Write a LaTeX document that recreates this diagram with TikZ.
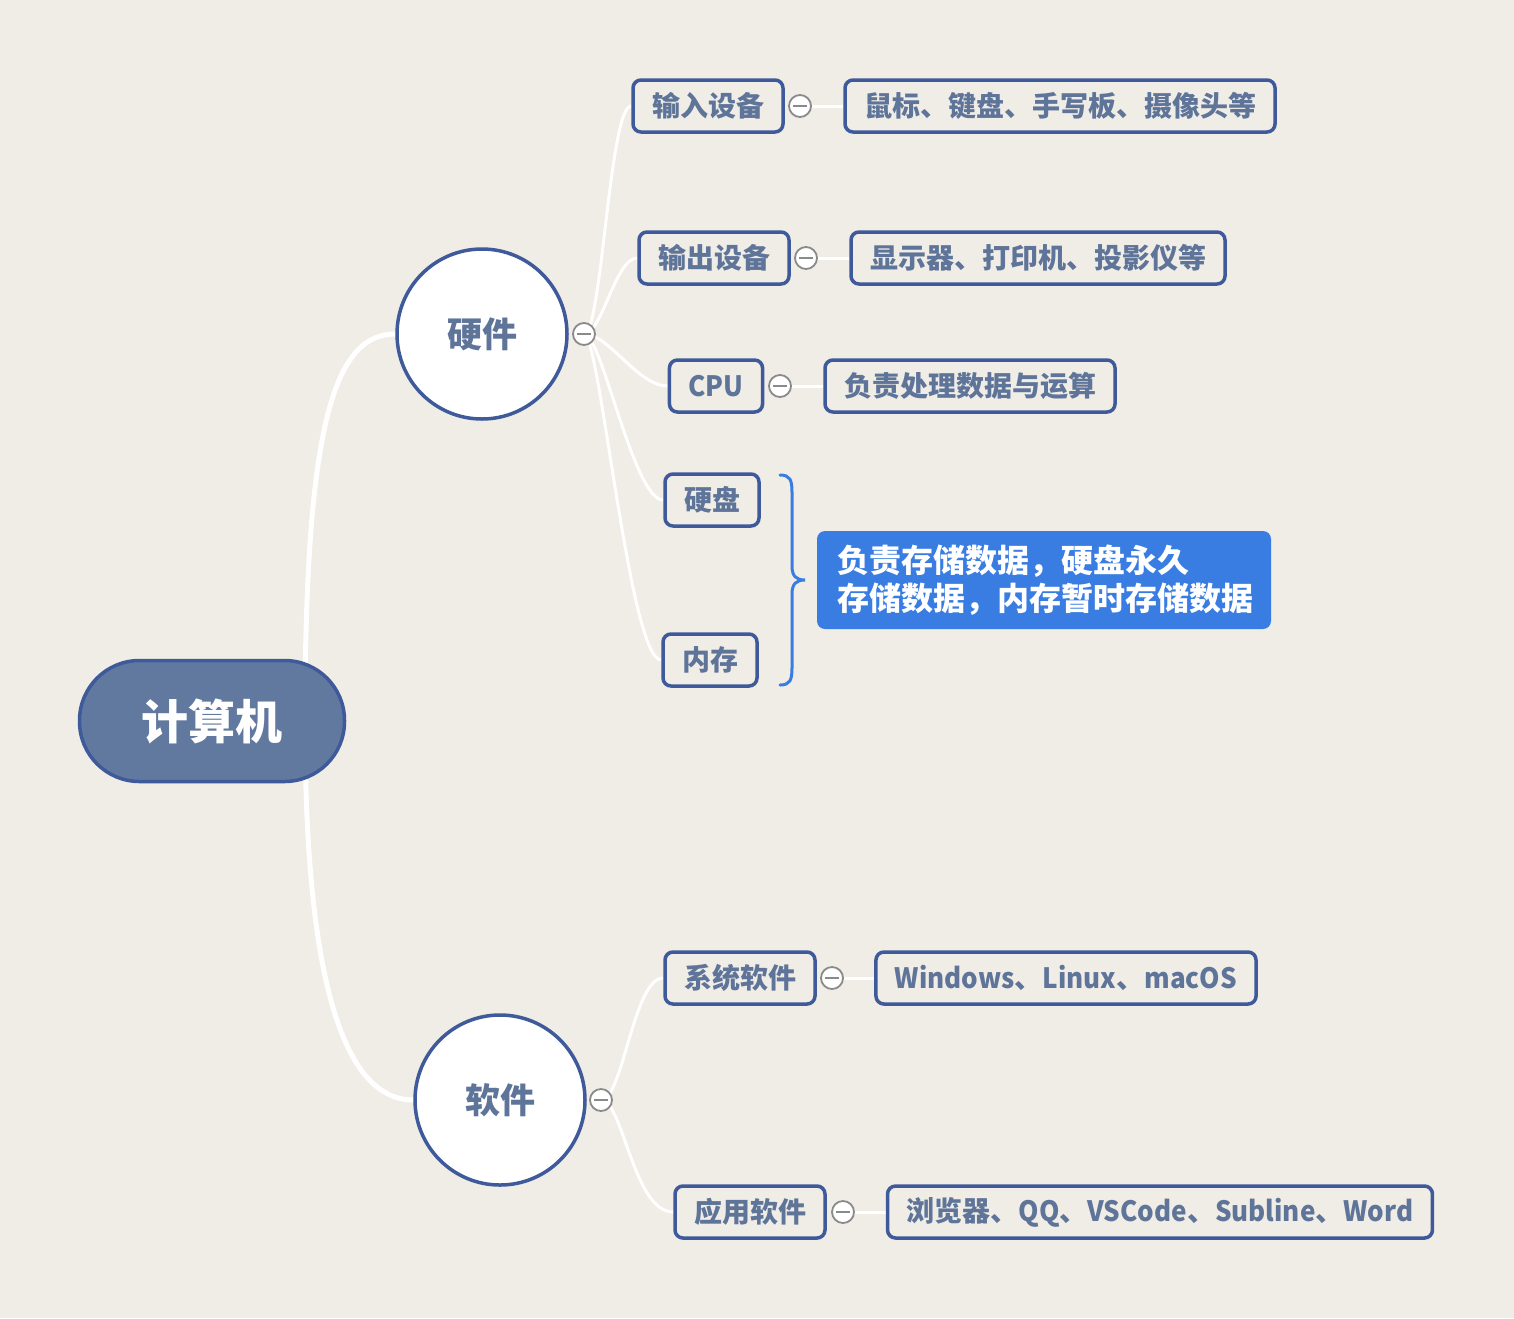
\documentclass[tikz,border=0pt]{standalone}
\usepackage{fontspec}
\setmainfont{Noto Sans CJK SC}
\usetikzlibrary{calc}
\definecolor{bgc}{HTML}{F0ECE6}
\definecolor{bordc}{HTML}{3F5A9A}
\definecolor{txtc}{HTML}{5E7499}
\definecolor{rootc}{HTML}{61799F}
\definecolor{notec}{HTML}{3A7DE2}
\definecolor{iconc}{HTML}{8A8A8A}
\newcommand{\latn}[1]{\scalebox{0.93}[1]{#1}}
\pgfdeclarelayer{back}
\pgfdeclarelayer{lines}
\pgfsetlayers{back,lines,main}
\tikzset{
  rootnode/.style={draw=bordc, line width=3.5pt, fill=rootc, rounded corners=60pt,
    minimum width=265pt, minimum height=121pt, text=white,
    font=\bfseries\fontsize{47}{50}\selectfont},
  topic/.style={circle, draw=bordc, line width=3.5pt, fill=white, minimum size=170pt,
    inner sep=0pt, text=txtc, font=\bfseries\fontsize{35}{38}\selectfont},
  sub/.style={draw=bordc, line width=3.5pt, rounded corners=8pt, fill=bgc,
    minimum height=52pt, inner xsep=19pt, inner ysep=0pt, text=txtc,
    font=\bfseries\fontsize{28}{30}\selectfont},
  icon/.style={circle, draw=iconc, line width=1.8pt, fill=white, minimum size=22pt,
    inner sep=0pt, path picture={\draw[iconc, line width=1.8pt]
      ($(path picture bounding box.center)+(-7pt,0)$) -- ($(path picture bounding box.center)+(7pt,0)$);}},
  branch/.style={draw=white, line width=5pt},
  twig/.style={draw=white, line width=3pt},
  notebox/.style={fill=notec, rounded corners=8pt, text=white, align=left,
    minimum width=454pt, minimum height=98pt, inner xsep=20pt, text width=414pt,
    font=\bfseries\fontsize{32}{38}\selectfont},
}
\begin{document}
\begin{tikzpicture}[x=1pt,y=-1pt]
\begin{pgfonlayer}{back}
\fill[bgc] (0,0) rectangle (1514,1318);
\end{pgfonlayer}
\useasboundingbox (0,0) rectangle (1514,1318);

% root and topics
\node[rootnode] (root) at (212,721) {计算机};
\coordinate (rootjoint) at (305,721);
\node[topic] (hw) at (482,334) {硬件};
\node[topic] (sw) at (500,1100) {软件};
\node[icon] (hwi) at (584,334) {};
\node[icon] (swi) at (601,1100) {};

% hardware subtopics
\node[sub] (in) at (708,106) {输入设备};
\node[icon] (ini) at (800,106) {};
\node[sub] (ind) at (1060,106) {鼠标、键盘、手写板、摄像头等};
\node[sub] (out) at (714,258) {输出设备};
\node[icon] (outi) at (806,258) {};
\node[sub] (outd) at (1038,258) {显示器、打印机、投影仪等};
\node[sub] (cpu) at (716,386) {\latn{CPU}};
\node[icon] (cpui) at (780,386) {};
\node[sub] (cpud) at (970,386) {负责处理数据与运算};
\node[sub] (disk) at (712,500) {硬盘};
\node[sub] (mem) at (710,660) {内存};
\node[notebox] (note) at (1044,580) {负责存储数据，硬盘永久\\存储数据，内存暂时存储数据};
\draw[notec, line width=3pt, line cap=round]
  (780,475) .. controls (790,475) and (792,480) .. (792,492)
  -- (792,566) .. controls (792,576) and (796,580) .. (805,580)
  .. controls (796,580) and (792,584) .. (792,594)
  -- (792,668) .. controls (792,680) and (790,685) .. (780,685);

% software subtopics
\node[sub] (sys) at (740,978) {系统软件};
\node[icon] (sysi) at (832,978) {};
\node[sub] (sysd) at (1066,978) {\latn{Windows}、\latn{Linux}、\latn{macOS}};
\node[sub] (app) at (750,1212) {应用软件};
\node[icon] (appi) at (843,1212) {};
\node[sub] (appd) at (1160,1212) {浏览器、\latn{QQ}、\latn{VSCode}、\latn{Subline}、\latn{Word}};

\begin{pgfonlayer}{lines}
\draw[branch] (rootjoint) .. controls +(0,-300) and +(-60,0) .. (hw.west);
\draw[branch] (rootjoint) .. controls +(0,290) and +(-60,0) .. (sw.west);
\draw[twig] (hwi.center) .. controls +(18,0) and +(-22,0) .. (in.west);
\draw[twig] (hwi.center) .. controls +(18,0) and +(-22,0) .. (out.west);
\draw[twig] (hwi.center) .. controls +(25,0) and +(-30,0) .. (cpu.west);
\draw[twig] (hwi.center) .. controls +(18,0) and +(-30,0) .. (disk.west);
\draw[twig] (hwi.center) .. controls +(16,0) and +(-32,0) .. (mem.west);
\draw[twig] (swi.center) .. controls +(22,0) and +(-30,0) .. (sys.west);
\draw[twig] (swi.center) .. controls +(22,0) and +(-40,0) .. (app.west);
\draw[twig] (ini) -- (ind);
\draw[twig] (outi) -- (outd);
\draw[twig] (cpui) -- (cpud);
\draw[twig] (sysi) -- (sysd);
\draw[twig] (appi) -- (appd);
\end{pgfonlayer}
\end{tikzpicture}
\end{document}
